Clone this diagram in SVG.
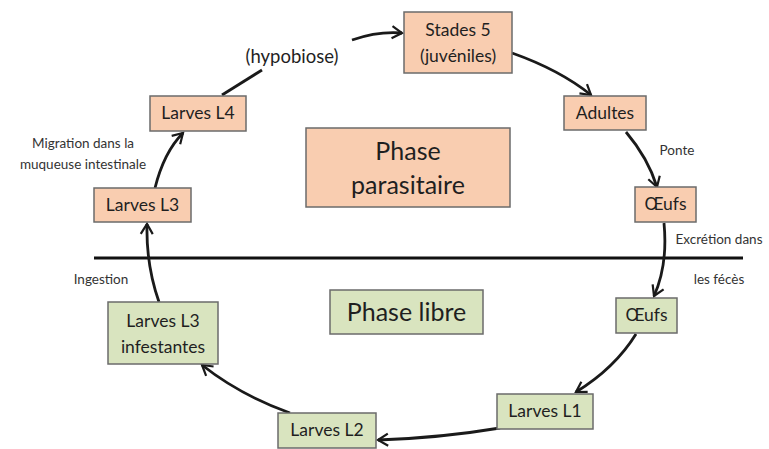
<svg xmlns="http://www.w3.org/2000/svg" width="769" height="449" viewBox="0 0 769 449">
<style>
.bg{fill:#ffffff}
.par{fill:#f9cdb0;stroke:#6b6b6b;stroke-width:1.5}
.lib{fill:#d9e4bf;stroke:#6b6b6b;stroke-width:1.5}
.t{font-family:Lato,"Open Sans","Liberation Sans",sans-serif;font-size:17.5px;fill:#1f1f1f;text-anchor:middle}
.big{font-size:25px}
.lbl{font-family:Lato,"Open Sans","Liberation Sans",sans-serif;font-size:13.5px;fill:#333333}
.c{fill:none;stroke:#1a1a1a;stroke-width:2.8;marker-end:url(#ah)}
.n{fill:none;stroke:#1a1a1a;stroke-width:2.8}
</style>
<defs>
<marker id="ah" markerUnits="userSpaceOnUse" markerWidth="16" markerHeight="16" refX="12" refY="8" orient="auto">
<path d="M2,2 L12,8 L2,14" fill="none" stroke="#1a1a1a" stroke-width="2.2"/>
</marker>
</defs>
<rect class="bg" x="0" y="0" width="769" height="449"/>

<g id="connectors">
<line x1="94" y1="258" x2="743" y2="258" stroke="#111" stroke-width="3"/>
<path class="c" d="M155,188 Q164,152 183,133"/>
<path class="n" d="M222,95 L262,70"/>
<path class="c" d="M352,40 Q378,31 402,33"/>
<path class="c" d="M512,53 Q560,70 591,95"/>
<path class="c" d="M626,132 Q648,158 657,187"/>
<path class="c" d="M664,223 Q668,265 654,296"/>
<path class="c" d="M636,334 Q615,368 576,392"/>
<path class="c" d="M500,428 Q440,438 378,440"/>
<path class="c" d="M290,413 Q240,395 202,365"/>
<path class="c" d="M159,302 Q146,265 147,224"/>
</g>

<g id="phase-parasitaire">
<rect class="par" x="306" y="128" width="204" height="79"/>
<text class="t big" x="408" y="160">Phase</text>
<text class="t big" x="408" y="194">parasitaire</text>
</g>
<g id="phase-libre">
<rect class="lib" x="330" y="290" width="153" height="44"/>
<text class="t big" x="406.5" y="321">Phase libre</text>
</g>

<g id="stades5">
<rect class="par" x="404" y="12" width="108" height="61"/>
<text class="t" x="458" y="36">Stades 5</text>
<text class="t" x="458" y="62">(juvéniles)</text>
</g>
<g id="adultes">
<rect class="par" x="564" y="96" width="82" height="34"/>
<text class="t" x="605" y="119">Adultes</text>
</g>
<g id="oeufs-par">
<rect class="par" x="635" y="187" width="61" height="35"/>
<text class="t" x="665.5" y="210">Œufs</text>
</g>
<g id="larves-l4">
<rect class="par" x="150" y="96" width="96" height="35"/>
<text class="t" x="198" y="119">Larves L4</text>
</g>
<g id="larves-l3">
<rect class="par" x="94" y="188" width="97" height="34"/>
<text class="t" x="142.5" y="211">Larves L3</text>
</g>
<g id="oeufs-lib">
<rect class="lib" x="616" y="298" width="61" height="35"/>
<text class="t" x="646.5" y="321">Œufs</text>
</g>
<g id="larves-l1">
<rect class="lib" x="497" y="394" width="96" height="35"/>
<text class="t" x="545" y="417">Larves L1</text>
</g>
<g id="larves-l2">
<rect class="lib" x="278" y="413" width="98" height="35"/>
<text class="t" x="327" y="436">Larves L2</text>
</g>
<g id="larves-l3-inf">
<rect class="lib" x="108" y="302" width="110" height="62"/>
<text class="t" x="163" y="327">Larves L3</text>
<text class="t" x="163" y="353">infestantes</text>
</g>

<g id="labels">
<text class="t" x="292" y="63" style="font-size:18.5px">(hypobiose)</text>
<text class="lbl" x="83" y="148" text-anchor="middle">Migration dans la</text>
<text class="lbl" x="83" y="169" text-anchor="middle">muqueuse intestinale</text>
<text class="lbl" x="677" y="155" text-anchor="middle">Ponte</text>
<text class="lbl" x="719" y="244" text-anchor="middle">Excrétion dans</text>
<text class="lbl" x="719" y="284" text-anchor="middle">les fécès</text>
<text class="lbl" x="101" y="284" text-anchor="middle">Ingestion</text>
</g>
</svg>
